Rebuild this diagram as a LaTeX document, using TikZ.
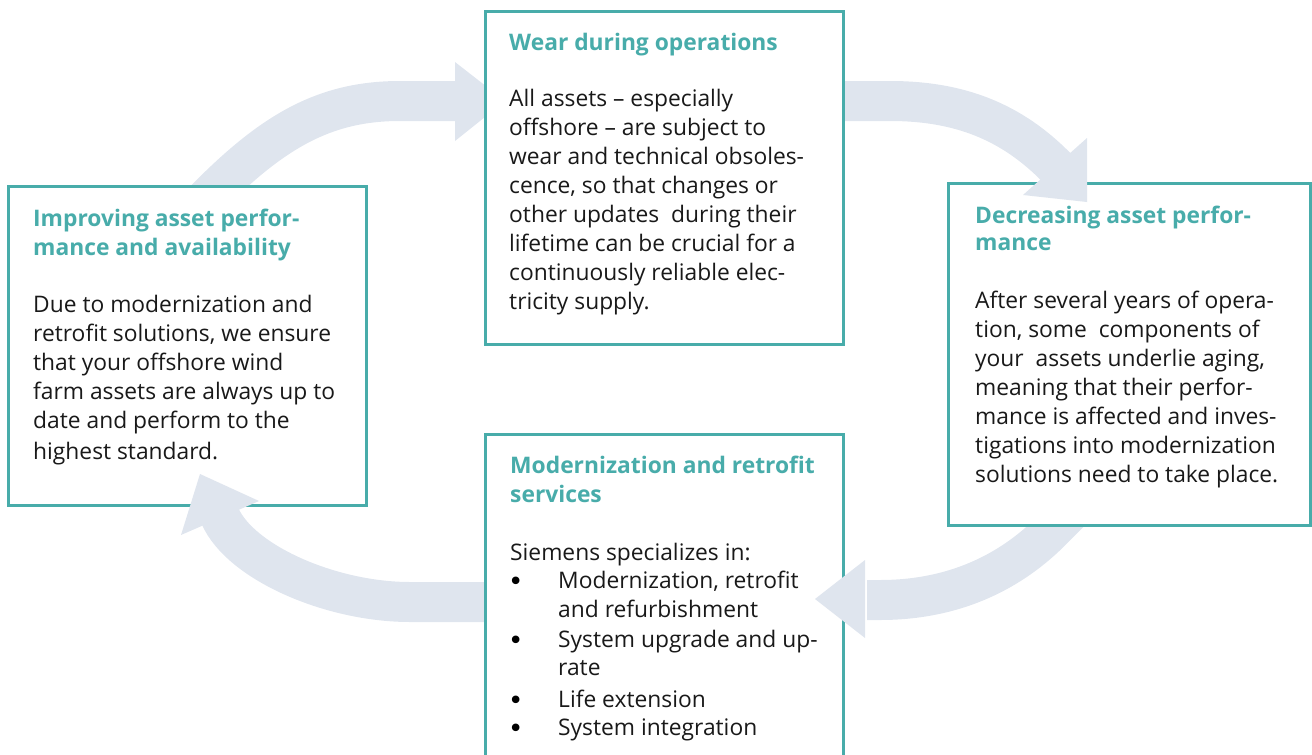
\documentclass[tikz,border=0pt]{standalone}
\usepackage{fontspec}
\setmainfont{Open Sans}
\newfontfamily\bulfont{DejaVu Sans}
\definecolor{teal1}{RGB}{72,172,170}
\definecolor{arrcol}{RGB}{223,229,238}
\newcommand{\txtline}[4]{\node[txt,anchor=base west] (#1) at (#2,#3) {#4};}
\begin{document}
\begin{tikzpicture}[x=1pt,y=-1pt,
  box/.style={draw=teal1,line width=3pt,fill=white},
  band/.style={draw=arrcol,line width=40pt},
  arrhead/.style={fill=arrcol},
  txt/.style={inner sep=0pt,font=\fontsize{22.8}{29}\selectfont,text=black!90},
  bul/.style={inner sep=0pt,anchor=base west,font=\bulfont\fontsize{26}{26}\selectfont,text=black},
  hd/.style={txt,font=\fontsize{22.8}{29}\selectfont\bfseries,text=teal1}]
\useasboundingbox (0,0) rectangle (1312,755);
% arrow bands (under boxes)
\draw[band] (205,200) -- (219,186) .. controls (280,127) and (330,101) .. (400,101) -- (457,101);
\draw[band] (830,101) -- (890,101) .. controls (960,101) and (1012,122) .. (1057,168);
\draw[band] (1072,510) -- (1057,525) .. controls (1010,575) and (950,600) .. (880,600) -- (867,600);
\draw[band] (500,602) -- (410,602) .. controls (330,602) and (240,562) .. (220,516);
% head of first arrow (under top box)
\fill[arrhead] (455,62) -- (505,101) -- (455,141) -- cycle;
% boxes
\node[box,minimum width=358pt,minimum height=319pt,inner sep=0pt] (left) at (187,345.5) {};
\node[box,minimum width=362pt,minimum height=342pt,inner sep=0pt] (right) at (1129,354) {};
\node[box,minimum width=358pt,minimum height=322pt,inner sep=0pt] (bottom) at (664,595) {};
\node[box,minimum width=358pt,minimum height=333pt,inner sep=0pt] (top) at (664,177.5) {};
% other arrow heads (over boxes)
\fill[arrhead] (1087,138) -- (1087,202) -- (1023,195) -- cycle;
\fill[arrhead] (865,560) -- (815,599) -- (865,638) -- cycle;
\fill[arrhead] (259,501) -- (200,474) -- (181,535) -- cycle;
% left box text
\node[hd,anchor=base west] (lh1) at (33,226) {Improving asset perfor-};
\node[hd,anchor=base west] (lh2) at (33,255) {mance and availability};
\txtline{l1}{33}{312}{Due to modernization and}
\txtline{l2}{33}{341}{retrofit solutions, we ensure}
\txtline{l3}{33}{370}{that your offshore wind}
\txtline{l4}{33}{399}{farm assets are always up to}
\txtline{l5}{33}{428}{date and perform to the}
\txtline{l6}{33}{459}{highest standard.}
% top box text
\node[hd,anchor=base west] (th1) at (509,50) {Wear during operations};
\txtline{t1}{509}{106}{All assets – especially}
\txtline{t2}{509}{135}{offshore – are subject to}
\txtline{t3}{509}{164}{wear and technical obsoles-}
\txtline{t4}{509}{193}{cence, so that changes or}
\txtline{t5}{509}{222}{other updates~~during their}
\txtline{t6}{509}{251}{lifetime can be crucial for a}
\txtline{t7}{509}{280}{continuously reliable elec-}
\txtline{t8}{509}{309}{tricity supply.}
% right box text
\node[hd,anchor=base west] (rh1) at (975,223) {Decreasing asset perfor-};
\node[hd,anchor=base west] (rh2) at (975,250) {mance};
\txtline{r1}{975}{308}{After several years of opera-}
\txtline{r2}{975}{337}{tion, some~~components of}
\txtline{r3}{975}{366}{your~~assets underlie aging,}
\txtline{r4}{975}{395}{meaning that their perfor-}
\txtline{r5}{975}{424}{mance is affected and inves-}
\txtline{r6}{975}{453}{tigations into modernization}
\txtline{r7}{975}{482}{solutions need to take place.}
% bottom box text
\node[hd,anchor=base west] (bh1) at (510,473) {Modernization and retrofit};
\node[hd,anchor=base west] (bh2) at (510,502) {services};
\txtline{b0}{510}{560}{Siemens specializes in:}
\node[bul] (bb1) at (508,590) {•};
\txtline{b1}{558}{588}{Modernization, retrofit}
\txtline{b2}{558}{617}{and refurbishment}
\node[bul] (bb2) at (508,649) {•};
\txtline{b3}{558}{647}{System upgrade and up-}
\txtline{b4}{558}{675}{rate}
\node[bul] (bb3) at (508,709) {•};
\txtline{b5}{558}{707}{Life extension}
\node[bul] (bb4) at (508,737) {•};
\txtline{b6}{558}{735}{System integration}
\end{tikzpicture}
\end{document}
